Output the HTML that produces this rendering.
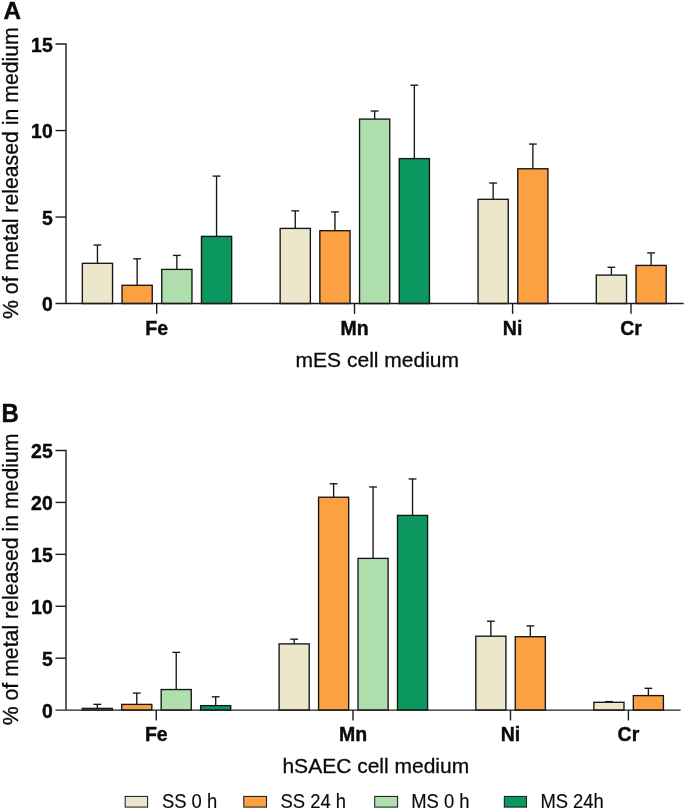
<!DOCTYPE html>
<html><head><meta charset="utf-8"><style>
html,body{margin:0;padding:0;background:#fff;}
body{width:685px;height:811px;overflow:hidden;}
svg{display:block;filter:blur(0.3px);}
text{font-family:"Liberation Sans",sans-serif;fill:#0a0a0a;stroke:#0a0a0a;stroke-width:0.3px;paint-order:stroke;}
.tl,.cl,.pl{stroke-width:0.4px;}
.lg{stroke-width:0.15px;}
.tl{font-size:19.4px;font-weight:bold;}
.cl{font-size:19.5px;font-weight:bold;}
.at{font-size:21px;}
.yl{font-size:21.25px;}
.pl{font-size:25px;font-weight:bold;}
.lg{font-size:18.4px;}
</style></head><body>
<svg width="685" height="811" viewBox="0 0 685 811">
<rect width="685" height="811" fill="#fff"/>
<line x1="97.45" y1="263.30" x2="97.45" y2="244.99" stroke="#161616" stroke-width="1.35"/>
<line x1="93.55" y1="244.99" x2="101.35" y2="244.99" stroke="#161616" stroke-width="1.35"/>
<rect x="82.35" y="263.30" width="30.20" height="40.25" fill="#ece6ca" stroke="#161616" stroke-width="1.35"/>
<line x1="137.15" y1="285.30" x2="137.15" y2="258.80" stroke="#161616" stroke-width="1.35"/>
<line x1="133.25" y1="258.80" x2="141.05" y2="258.80" stroke="#161616" stroke-width="1.35"/>
<rect x="122.05" y="285.30" width="30.20" height="18.25" fill="#fca142" stroke="#161616" stroke-width="1.35"/>
<line x1="176.85" y1="269.40" x2="176.85" y2="255.41" stroke="#161616" stroke-width="1.35"/>
<line x1="172.95" y1="255.41" x2="180.75" y2="255.41" stroke="#161616" stroke-width="1.35"/>
<rect x="161.75" y="269.40" width="30.20" height="34.15" fill="#aedfac" stroke="#161616" stroke-width="1.35"/>
<line x1="216.55" y1="236.40" x2="216.55" y2="176.09" stroke="#161616" stroke-width="1.35"/>
<line x1="212.65" y1="176.09" x2="220.45" y2="176.09" stroke="#161616" stroke-width="1.35"/>
<rect x="201.45" y="236.40" width="30.20" height="67.15" fill="#0d9760" stroke="#161616" stroke-width="1.35"/>
<line x1="295.25" y1="228.40" x2="295.25" y2="210.85" stroke="#161616" stroke-width="1.35"/>
<line x1="291.35" y1="210.85" x2="299.15" y2="210.85" stroke="#161616" stroke-width="1.35"/>
<rect x="280.15" y="228.40" width="30.20" height="75.15" fill="#ece6ca" stroke="#161616" stroke-width="1.35"/>
<line x1="334.95" y1="230.71" x2="334.95" y2="211.90" stroke="#161616" stroke-width="1.35"/>
<line x1="331.05" y1="211.90" x2="338.85" y2="211.90" stroke="#161616" stroke-width="1.35"/>
<rect x="319.85" y="230.71" width="30.20" height="72.84" fill="#fca142" stroke="#161616" stroke-width="1.35"/>
<line x1="374.65" y1="119.09" x2="374.65" y2="111.00" stroke="#161616" stroke-width="1.35"/>
<line x1="370.75" y1="111.00" x2="378.55" y2="111.00" stroke="#161616" stroke-width="1.35"/>
<rect x="359.55" y="119.09" width="30.20" height="184.46" fill="#aedfac" stroke="#161616" stroke-width="1.35"/>
<line x1="414.35" y1="158.60" x2="414.35" y2="85.21" stroke="#161616" stroke-width="1.35"/>
<line x1="410.45" y1="85.21" x2="418.25" y2="85.21" stroke="#161616" stroke-width="1.35"/>
<rect x="399.25" y="158.60" width="30.20" height="144.95" fill="#0d9760" stroke="#161616" stroke-width="1.35"/>
<line x1="493.15" y1="199.31" x2="493.15" y2="183.00" stroke="#161616" stroke-width="1.35"/>
<line x1="489.25" y1="183.00" x2="497.05" y2="183.00" stroke="#161616" stroke-width="1.35"/>
<rect x="478.05" y="199.31" width="30.20" height="104.24" fill="#ece6ca" stroke="#161616" stroke-width="1.35"/>
<line x1="532.85" y1="168.76" x2="532.85" y2="144.06" stroke="#161616" stroke-width="1.35"/>
<line x1="528.95" y1="144.06" x2="536.75" y2="144.06" stroke="#161616" stroke-width="1.35"/>
<rect x="517.75" y="168.76" width="30.20" height="134.79" fill="#fca142" stroke="#161616" stroke-width="1.35"/>
<line x1="611.40" y1="275.09" x2="611.40" y2="267.29" stroke="#161616" stroke-width="1.35"/>
<line x1="607.50" y1="267.29" x2="615.30" y2="267.29" stroke="#161616" stroke-width="1.35"/>
<rect x="596.30" y="275.09" width="30.20" height="28.46" fill="#ece6ca" stroke="#161616" stroke-width="1.35"/>
<line x1="651.10" y1="265.41" x2="651.10" y2="252.90" stroke="#161616" stroke-width="1.35"/>
<line x1="647.20" y1="252.90" x2="655.00" y2="252.90" stroke="#161616" stroke-width="1.35"/>
<rect x="636.00" y="265.41" width="30.20" height="38.14" fill="#fca142" stroke="#161616" stroke-width="1.35"/>
<path d="M55.5,44.07 H66.0 V303.55" fill="none" stroke="#1c1c1c" stroke-width="1.4" stroke-linejoin="miter"/>
<line x1="55.5" y1="303.55" x2="683.7" y2="303.55" stroke="#1c1c1c" stroke-width="1.4"/>
<text transform="translate(52.70,311.05) scale(1,1.01)" text-anchor="end" class="tl">0</text>
<line x1="55.5" y1="217.06" x2="66.0" y2="217.06" stroke="#1c1c1c" stroke-width="1.4"/>
<text transform="translate(52.70,224.56) scale(1,1.01)" text-anchor="end" class="tl">5</text>
<line x1="55.5" y1="130.56" x2="66.0" y2="130.56" stroke="#1c1c1c" stroke-width="1.4"/>
<text transform="translate(52.70,138.06) scale(1,1.01)" text-anchor="end" class="tl">10</text>
<text transform="translate(52.70,51.57) scale(1,1.01)" text-anchor="end" class="tl">15</text>
<line x1="156.7" y1="303.55" x2="156.7" y2="313.85" stroke="#1c1c1c" stroke-width="1.4"/>
<text transform="translate(156.70,334.60) scale(1,1.01)" text-anchor="middle" class="cl">Fe</text>
<line x1="354.5" y1="303.55" x2="354.5" y2="313.85" stroke="#1c1c1c" stroke-width="1.4"/>
<text transform="translate(354.50,334.60) scale(1,1.01)" text-anchor="middle" class="cl">Mn</text>
<line x1="512.6" y1="303.55" x2="512.6" y2="313.85" stroke="#1c1c1c" stroke-width="1.4"/>
<text transform="translate(512.60,334.60) scale(1,1.01)" text-anchor="middle" class="cl">Ni</text>
<line x1="631.0" y1="303.55" x2="631.0" y2="313.85" stroke="#1c1c1c" stroke-width="1.4"/>
<text transform="translate(631.00,334.60) scale(1,1.01)" text-anchor="middle" class="cl">Cr</text>
<text transform="translate(377.30,366.60) scale(1,1.0)" text-anchor="middle" class="at">mES cell medium</text>
<text transform="translate(17.6,173.11) rotate(-90) scale(1,1.0)" text-anchor="middle" class="yl">% of metal released in medium</text>
<text transform="translate(3.40,18.70) scale(1,1.0)" text-anchor="start" class="pl" style="font-size:24.3px">A</text>
<line x1="97.32" y1="708.40" x2="97.32" y2="704.35" stroke="#161616" stroke-width="1.35"/>
<line x1="93.42" y1="704.35" x2="101.22" y2="704.35" stroke="#161616" stroke-width="1.35"/>
<rect x="82.27" y="708.40" width="30.10" height="1.70" fill="#ece6ca" stroke="#161616" stroke-width="1.35"/>
<line x1="136.78" y1="704.39" x2="136.78" y2="693.07" stroke="#161616" stroke-width="1.35"/>
<line x1="132.88" y1="693.07" x2="140.68" y2="693.07" stroke="#161616" stroke-width="1.35"/>
<rect x="121.72" y="704.39" width="30.10" height="5.71" fill="#fca142" stroke="#161616" stroke-width="1.35"/>
<line x1="176.23" y1="689.54" x2="176.23" y2="652.36" stroke="#161616" stroke-width="1.35"/>
<line x1="172.33" y1="652.36" x2="180.13" y2="652.36" stroke="#161616" stroke-width="1.35"/>
<rect x="161.18" y="689.54" width="30.10" height="20.56" fill="#aedfac" stroke="#161616" stroke-width="1.35"/>
<line x1="215.68" y1="705.63" x2="215.68" y2="696.81" stroke="#161616" stroke-width="1.35"/>
<line x1="211.78" y1="696.81" x2="219.58" y2="696.81" stroke="#161616" stroke-width="1.35"/>
<rect x="200.62" y="705.63" width="30.10" height="4.47" fill="#0d9760" stroke="#161616" stroke-width="1.35"/>
<line x1="294.18" y1="643.90" x2="294.18" y2="639.18" stroke="#161616" stroke-width="1.35"/>
<line x1="290.28" y1="639.18" x2="298.07" y2="639.18" stroke="#161616" stroke-width="1.35"/>
<rect x="279.12" y="643.90" width="30.10" height="66.20" fill="#ece6ca" stroke="#161616" stroke-width="1.35"/>
<line x1="333.62" y1="497.23" x2="333.62" y2="483.73" stroke="#161616" stroke-width="1.35"/>
<line x1="329.73" y1="483.73" x2="337.52" y2="483.73" stroke="#161616" stroke-width="1.35"/>
<rect x="318.57" y="497.23" width="30.10" height="212.87" fill="#fca142" stroke="#161616" stroke-width="1.35"/>
<line x1="373.07" y1="558.39" x2="373.07" y2="486.95" stroke="#161616" stroke-width="1.35"/>
<line x1="369.18" y1="486.95" x2="376.97" y2="486.95" stroke="#161616" stroke-width="1.35"/>
<rect x="358.02" y="558.39" width="30.10" height="151.71" fill="#aedfac" stroke="#161616" stroke-width="1.35"/>
<line x1="412.53" y1="515.40" x2="412.53" y2="478.95" stroke="#161616" stroke-width="1.35"/>
<line x1="408.63" y1="478.95" x2="416.43" y2="478.95" stroke="#161616" stroke-width="1.35"/>
<rect x="397.48" y="515.40" width="30.10" height="194.70" fill="#0d9760" stroke="#161616" stroke-width="1.35"/>
<line x1="490.88" y1="636.20" x2="490.88" y2="621.20" stroke="#161616" stroke-width="1.35"/>
<line x1="486.98" y1="621.20" x2="494.77" y2="621.20" stroke="#161616" stroke-width="1.35"/>
<rect x="475.82" y="636.20" width="30.10" height="73.90" fill="#ece6ca" stroke="#161616" stroke-width="1.35"/>
<line x1="530.32" y1="636.70" x2="530.32" y2="625.90" stroke="#161616" stroke-width="1.35"/>
<line x1="526.42" y1="625.90" x2="534.22" y2="625.90" stroke="#161616" stroke-width="1.35"/>
<rect x="515.27" y="636.70" width="30.10" height="73.40" fill="#fca142" stroke="#161616" stroke-width="1.35"/>
<line x1="608.92" y1="702.30" x2="608.92" y2="701.60" stroke="#161616" stroke-width="1.35"/>
<line x1="605.02" y1="701.60" x2="612.82" y2="701.60" stroke="#161616" stroke-width="1.35"/>
<rect x="593.88" y="702.30" width="30.10" height="7.80" fill="#ece6ca" stroke="#161616" stroke-width="1.35"/>
<line x1="648.38" y1="695.60" x2="648.38" y2="688.30" stroke="#161616" stroke-width="1.35"/>
<line x1="644.48" y1="688.30" x2="652.27" y2="688.30" stroke="#161616" stroke-width="1.35"/>
<rect x="633.33" y="695.60" width="30.10" height="14.50" fill="#fca142" stroke="#161616" stroke-width="1.35"/>
<path d="M55.5,450.50 H66.0 V710.10" fill="none" stroke="#1c1c1c" stroke-width="1.4" stroke-linejoin="miter"/>
<line x1="55.5" y1="710.1" x2="680.6" y2="710.1" stroke="#1c1c1c" stroke-width="1.4"/>
<text transform="translate(52.70,717.80) scale(1,1.01)" text-anchor="end" class="tl">0</text>
<line x1="55.5" y1="658.18" x2="66.0" y2="658.18" stroke="#1c1c1c" stroke-width="1.4"/>
<text transform="translate(52.70,665.88) scale(1,1.01)" text-anchor="end" class="tl">5</text>
<line x1="55.5" y1="606.26" x2="66.0" y2="606.26" stroke="#1c1c1c" stroke-width="1.4"/>
<text transform="translate(52.70,613.96) scale(1,1.01)" text-anchor="end" class="tl">10</text>
<line x1="55.5" y1="554.34" x2="66.0" y2="554.34" stroke="#1c1c1c" stroke-width="1.4"/>
<text transform="translate(52.70,562.04) scale(1,1.01)" text-anchor="end" class="tl">15</text>
<line x1="55.5" y1="502.42" x2="66.0" y2="502.42" stroke="#1c1c1c" stroke-width="1.4"/>
<text transform="translate(52.70,510.12) scale(1,1.01)" text-anchor="end" class="tl">20</text>
<text transform="translate(52.70,458.20) scale(1,1.01)" text-anchor="end" class="tl">25</text>
<line x1="156.3" y1="710.1" x2="156.3" y2="720.40" stroke="#1c1c1c" stroke-width="1.4"/>
<text transform="translate(156.30,741.30) scale(1,1.01)" text-anchor="middle" class="cl">Fe</text>
<line x1="353.0" y1="710.1" x2="353.0" y2="720.40" stroke="#1c1c1c" stroke-width="1.4"/>
<text transform="translate(353.00,741.30) scale(1,1.01)" text-anchor="middle" class="cl">Mn</text>
<line x1="510.5" y1="710.1" x2="510.5" y2="720.40" stroke="#1c1c1c" stroke-width="1.4"/>
<text transform="translate(510.50,741.30) scale(1,1.01)" text-anchor="middle" class="cl">Ni</text>
<line x1="628.4" y1="710.1" x2="628.4" y2="720.40" stroke="#1c1c1c" stroke-width="1.4"/>
<text transform="translate(628.40,741.30) scale(1,1.01)" text-anchor="middle" class="cl">Cr</text>
<text transform="translate(375.80,772.70) scale(1,1.0)" text-anchor="middle" class="at">hSAEC cell medium</text>
<text transform="translate(17.6,579.40) rotate(-90) scale(1,1.0)" text-anchor="middle" class="yl">% of metal released in medium</text>
<text transform="translate(1.50,421.60) scale(1,1.04)" text-anchor="start" class="pl" style="font-size:24px">B</text>
<rect x="125.20" y="796.40" width="22.40" height="10.70" fill="#ece6ca" stroke="#161616" stroke-width="1.0"/>
<text transform="translate(161.90,808.35) scale(1,1.05)" text-anchor="start" class="lg">SS 0 h</text>
<rect x="243.80" y="796.40" width="22.70" height="10.70" fill="#fca142" stroke="#161616" stroke-width="1.0"/>
<text transform="translate(280.60,808.35) scale(1,1.05)" text-anchor="start" class="lg">SS 24 h</text>
<rect x="374.70" y="796.40" width="22.90" height="10.70" fill="#aedfac" stroke="#161616" stroke-width="1.0"/>
<text transform="translate(411.20,808.35) scale(1,1.05)" text-anchor="start" class="lg">MS 0 h</text>
<rect x="504.30" y="796.40" width="22.20" height="10.70" fill="#0d9760" stroke="#161616" stroke-width="1.0"/>
<text transform="translate(540.40,808.35) scale(1,1.05)" text-anchor="start" class="lg">MS 24h</text>
</svg>
</body></html>
